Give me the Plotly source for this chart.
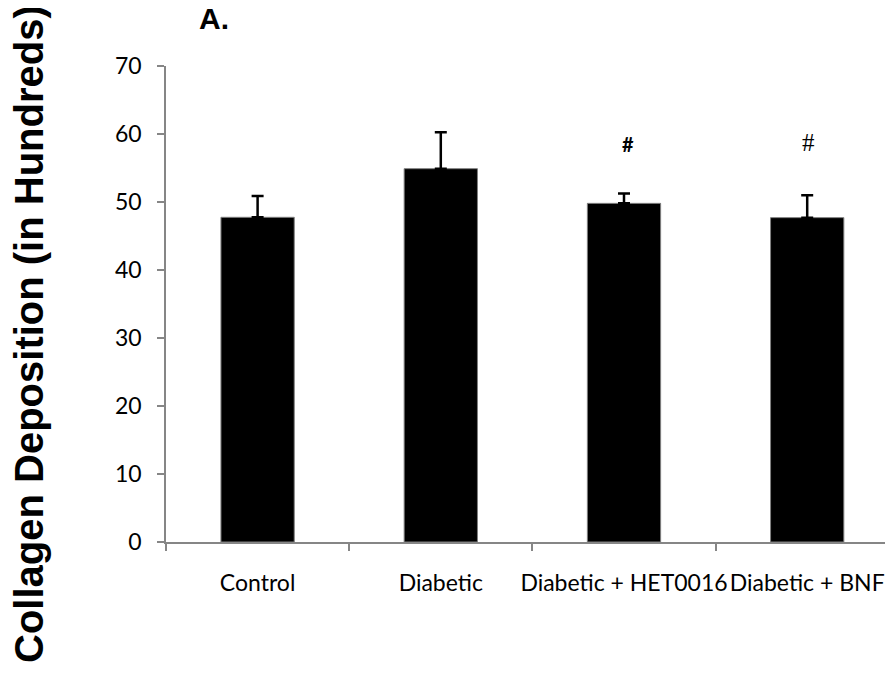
import plotly.graph_objects as go

categories = ["Control", "Diabetic", "Diabetic + HET0016", "Diabetic + BNF"]
values = [47.75, 54.9, 49.8, 47.7]
errors = [3.15, 5.35, 1.45, 3.3]
sig_labels = ["", "", "#", "#"]
sig_y = [None, None, 58.6, 58.8]
y_ticks = [0, 10, 20, 30, 40, 50, 60, 70]

# the page body adds an 8px margin; the figure is sized to fill the rest
W, H = 885, 679
L, R, T, B = 158, 0, 58, 145
pw = W - L - R
ph = H - T - B

fig = go.Figure()
fig.add_trace(go.Bar(
    x=list(range(len(categories))),
    y=values,
    width=0.4,
    marker=dict(color="black", line=dict(color="#7f7f7f", width=1)),
    error_y=dict(type="data", array=errors, arrayminus=[0] * len(errors), symmetric=False,
                 color="black", thickness=2.5, width=6),
    showlegend=False,
))

fonts = [None, None, dict(family="Lato", size=20, color="black", weight="bold"),
         dict(family="Liberation Serif", size=25, color="black")]
shifts = [0, 0, 4, 1]
for i, lab in enumerate(sig_labels):
    if lab:
        fig.add_annotation(x=i, y=sig_y[i], xref="x", yref="y", text=lab, showarrow=False,
                           font=fonts[i], xanchor="center", yanchor="middle", xshift=shifts[i])

fig.add_annotation(text="<b>Collagen Deposition (in Hundreds)</b>", textangle=-90,
                   xref="paper", yref="paper",
                   x=(21 - L) / pw, y=(H - B - 326) / ph,
                   xanchor="center", yanchor="middle", showarrow=False,
                   font=dict(family="Liberation Sans", size=40, color="black"))

fig.add_annotation(text="<b>A.</b>", xref="paper", yref="paper",
                   x=(189 - L) / pw, y=(H - B - 11) / ph,
                   xanchor="left", yanchor="middle", showarrow=False,
                   font=dict(family="Liberation Sans", size=30, color="black"))

fig.update_layout(
    width=W, height=H,
    margin=dict(l=L, r=R, t=T, b=B),
    paper_bgcolor="white", plot_bgcolor="white",
    bargap=0.6,
    xaxis=dict(
        range=[-0.5, -0.5 + pw / 183.2],
        tickmode="array",
        tickvals=list(range(len(categories))),
        ticktext=categories,
        showline=True, linecolor="#868686", linewidth=1.5,
        ticks="", showgrid=False, zeroline=False,
        tickfont=dict(family="Lato", size=23, color="black"),
        ticklabelstandoff=20,
    ),
    yaxis=dict(
        range=[0, 70],
        tickvals=y_ticks,
        showline=True, linecolor="#868686", linewidth=1.5,
        ticks="outside", ticklen=7, tickcolor="#868686", tickwidth=1.5,
        showgrid=False, zeroline=False,
        tickfont=dict(family="Lato", size=23, color="black"),
        ticklabelstandoff=11,
    ),
)

fig.update_xaxes(minor=dict(tickvals=[-0.5, 0.5, 1.5, 2.5, 3.5], ticks="outside",
                            ticklen=7, tickcolor="#868686", tickwidth=1.5))

fig.write_html("out.html")
